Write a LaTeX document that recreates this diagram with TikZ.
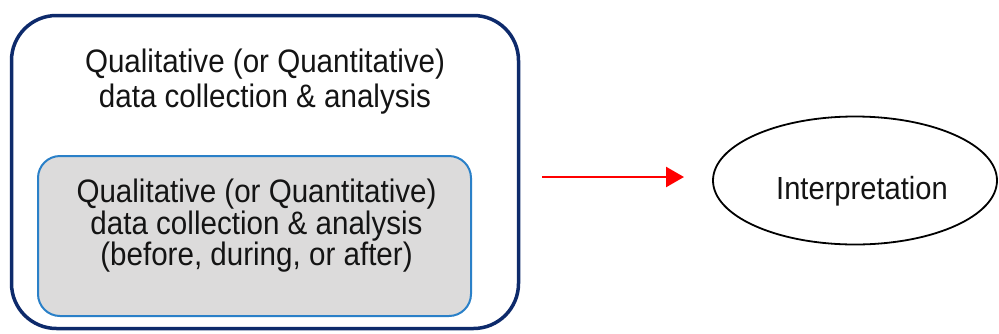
\documentclass[tikz,border=0pt]{standalone}
\usepackage{fontspec}
\setmainfont{Liberation Sans}[FakeStretch=0.91]
\usetikzlibrary{arrows.meta,shapes.geometric}
\definecolor{navy}{HTML}{0D2A6B}
\definecolor{innerblue}{HTML}{2A80C8}
\definecolor{innergray}{HTML}{DCDBDB}
\definecolor{txt}{HTML}{141414}
\begin{document}
\begin{tikzpicture}[x=1pt,y=-1pt,
  outerbox/.style={draw=navy,line width=3.5pt,rounded corners=45pt,minimum width=507pt,minimum height=313pt,inner sep=0pt},
  innerbox/.style={draw=innerblue,fill=innergray,line width=2pt,rounded corners=22pt,minimum width=433pt,minimum height=160pt,inner sep=0pt},
  lbl/.style={text=txt,align=center,inner sep=0pt,font=\fontsize{32.5}{35}\selectfont},
  interp/.style={draw=black,line width=1.8pt,ellipse,minimum width=284pt,minimum height=128pt,inner sep=0pt},
  redarrow/.style={draw=red,line width=2.5pt,-{Triangle[length=18pt,width=20pt]}}
]
\useasboundingbox (0,0) rectangle (999,333);
\node[outerbox] (outer) at (265,172) {};
\node[innerbox] (inner) at (254.5,236) {};
\node[lbl] (toptext) at (265,81.5) {Qualitative (or Quantitative)\\data collection \& analysis};
\node[lbl,font=\fontsize{32.5}{31.5}\selectfont] (innertext) at (256.5,226) {Qualitative (or Quantitative)\\data collection \& analysis\\(before, during, or after)};
\node[interp] (ell) at (855,180.5) {};
\node[lbl,font=\fontsize{32}{32}\selectfont] (interptext) at (862,191.5) {Interpretation};
\coordinate (as) at (542,177);
\coordinate (ae) at (684,177);
\draw[redarrow] (as) -- (ae);
\end{tikzpicture}
\end{document}
